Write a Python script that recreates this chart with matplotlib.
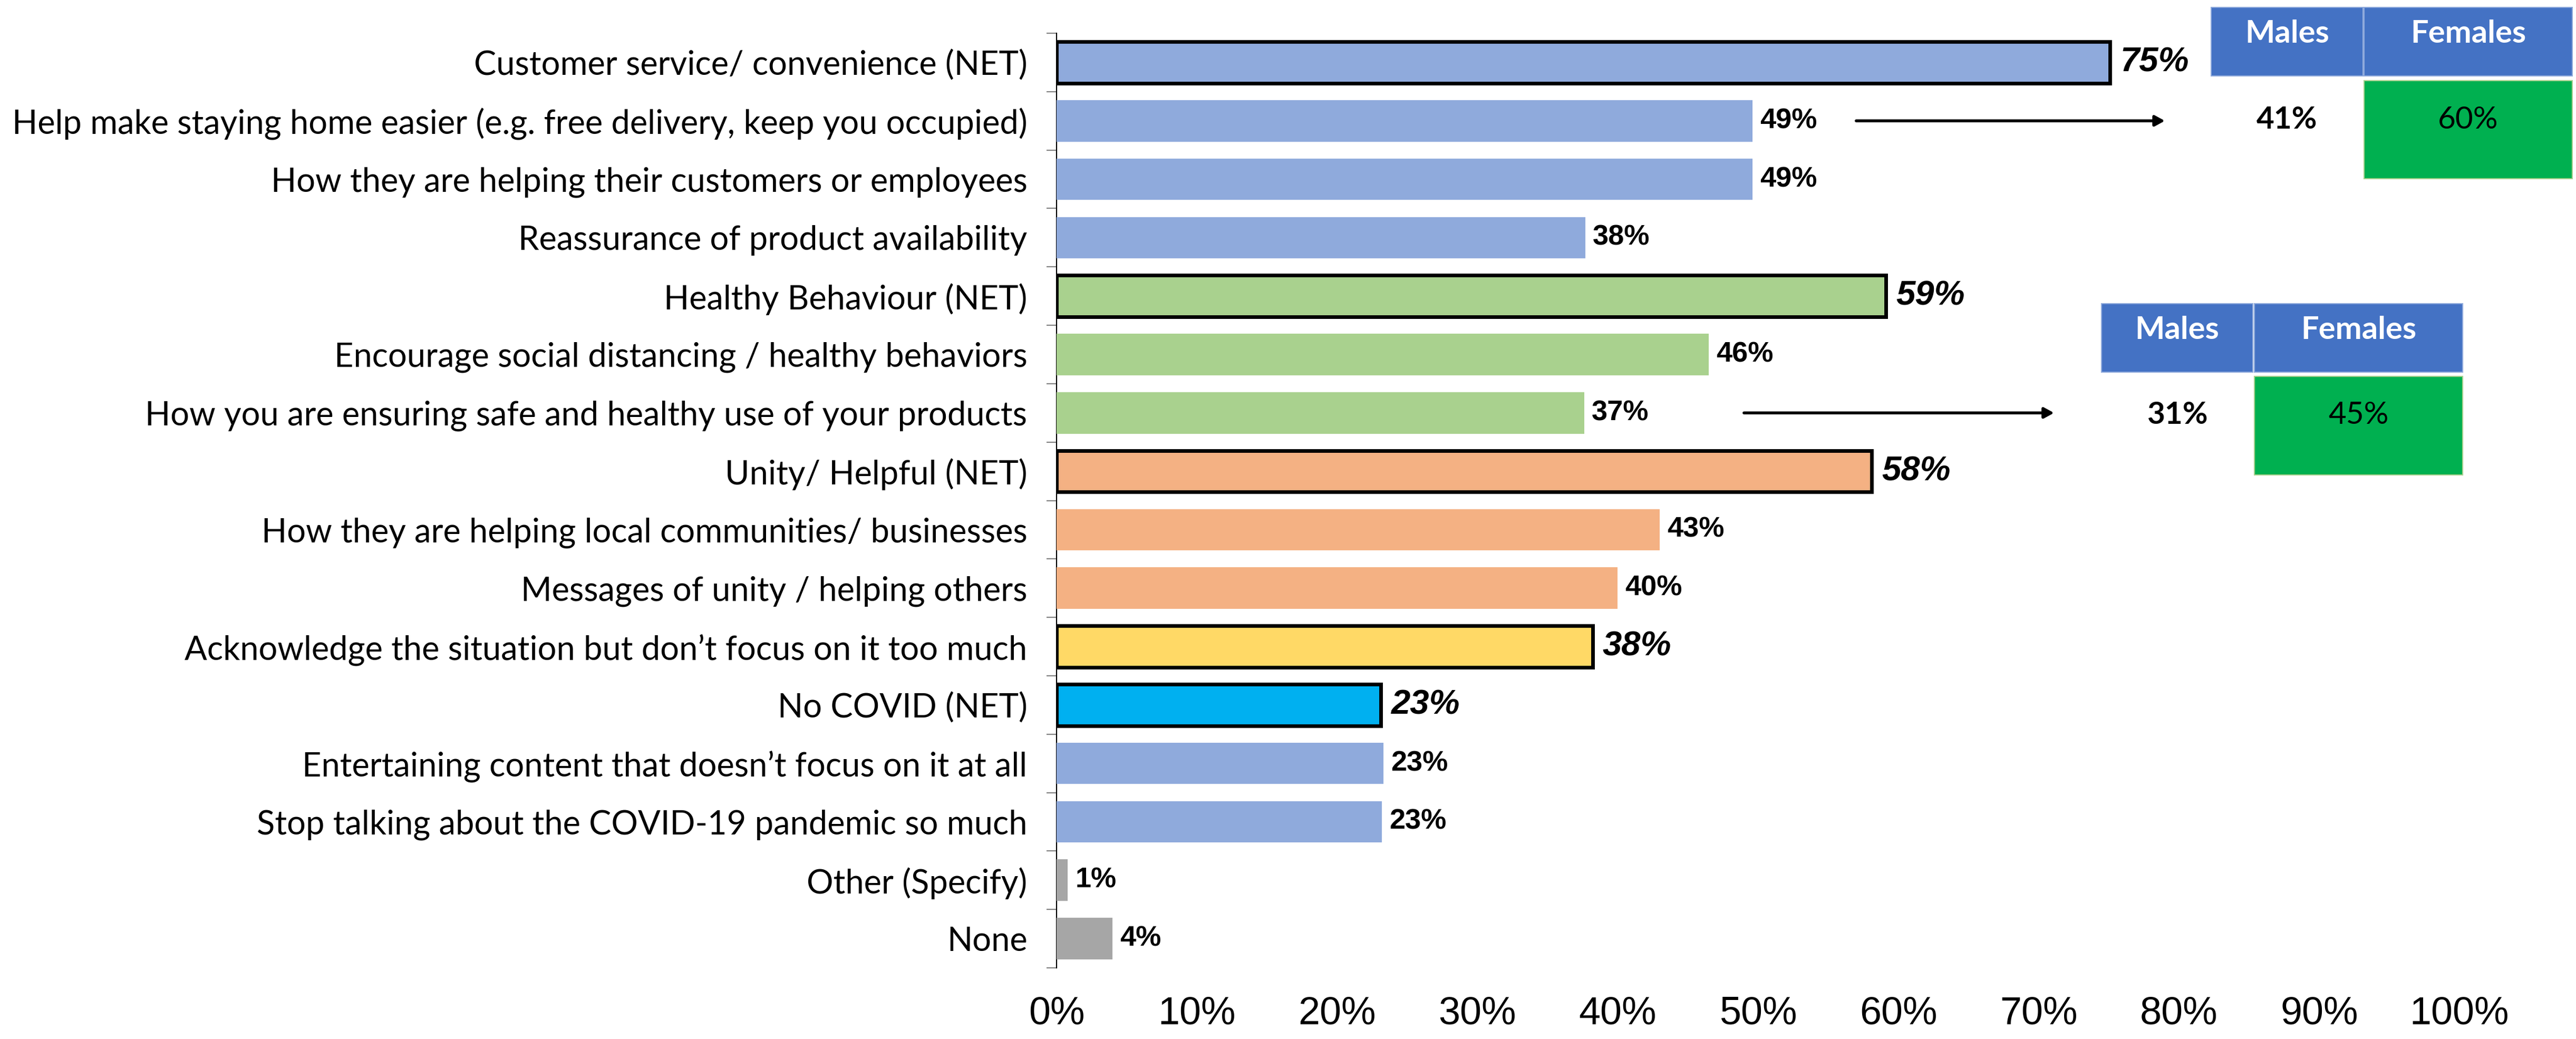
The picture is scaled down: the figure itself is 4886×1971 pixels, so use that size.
import matplotlib
matplotlib.use('Agg')
import matplotlib.pyplot as plt
from matplotlib.patches import Rectangle

# chart data
labels = [
    'Customer service/ convenience (NET)',
    'Help make staying home easier (e.g. free delivery, keep you occupied)',
    'How they are helping their customers or employees',
    'Reassurance of product availability',
    'Healthy Behaviour (NET)',
    'Encourage social distancing / healthy behaviors',
    'How you are ensuring safe and healthy use of your products',
    'Unity/ Helpful (NET)',
    'How they are helping local communities/ businesses',
    'Messages of unity / helping others',
    'Acknowledge the situation but don\u2019t focus on it too much',
    'No COVID (NET)',
    'Entertaining content that doesn\u2019t focus on it at all',
    'Stop talking about the COVID-19 pandemic so much',
    'Other (Specify)',
    'None',
]
# bar lengths (unrounded) and the printed labels
bar_values = [75.1, 49.6, 49.6, 37.7, 59.1, 46.5, 37.6, 58.1, 43.0, 40.0,
              38.2, 23.1, 23.3, 23.2, 0.8, 4.0]
value_labels = [75, 49, 49, 38, 59, 46, 37, 58, 43, 40, 38, 23, 23, 23, 1, 4]
is_net = [True, False, False, False, True, False, False, True, False, False,
          True, True, False, False, False, False]
bar_colors = ['#8FAADC', '#8FAADC', '#8FAADC', '#8FAADC',
              '#A9D18E', '#A9D18E', '#A9D18E',
              '#F4B183', '#F4B183', '#F4B183',
              '#FFD966', '#00B0F0', '#8FAADC', '#8FAADC',
              '#A6A6A6', '#A6A6A6']
xticks = [0, 10, 20, 30, 40, 50, 60, 70, 80, 90, 100]

# gender split call-outs
split_headers = ['Males', 'Females']
split_rows = [1, 6]            # rows the arrows start from
males_split = [41, 31]
females_split = [60, 45]

W, H = 4886, 1971
fig = plt.figure(figsize=(W / 100, H / 100), dpi=100)
ax = fig.add_axes([2004 / W, 1 - 1836 / H, (4665 - 2004) / W, (1836 - 63) / H])

ypos = list(range(len(labels)))
for y, v, lab, c, net in zip(ypos, bar_values, value_labels, bar_colors, is_net):
    if net:
        ax.barh(y, v, height=0.71, color=c, edgecolor='black', linewidth=5, zorder=3)
        ax.annotate('%d%%' % lab, (v, y), xytext=(14, 0), textcoords='offset points',
                    va='center', ha='left', fontsize=47, fontweight='bold',
                    fontstyle='italic', family='Liberation Sans')
    else:
        ax.barh(y, v, height=0.71, color=c, linewidth=0, zorder=3)
        ax.annotate('%d%%' % lab, (v, y), xytext=(10, 0), textcoords='offset points',
                    va='center', ha='left', fontsize=39, fontweight='bold',
                    family='Liberation Sans')

ax.set_xlim(0, 100)
ax.set_ylim(len(labels) - 0.5, -0.5)
ax.set_yticks(ypos)
ax.set_yticklabels(labels, fontsize=45.5, family='Lato')
ax.set_yticks([y - 0.5 for y in range(len(labels) + 1)], minor=True)
ax.tick_params(axis='y', which='major', length=0, pad=40)
ax.tick_params(axis='y', which='minor', length=14, width=1.5, color='#7F7F7F')
ax.set_xticks(xticks)
ax.set_xticklabels(['%d%%' % t for t in xticks], fontsize=53, family='Liberation Sans')
ax.tick_params(axis='x', length=0, pad=38)

for s in ['top', 'right', 'bottom']:
    ax.spines[s].set_visible(False)
ax.spines['left'].set_linewidth(1.5)
ax.spines['left'].set_color('black')

# arrows to the gender tables
arrow_x = [(57.0, 79.0), (49.0, 71.1)]
for (x0, x1), r in zip(arrow_x, split_rows):
    ax.annotate('', xy=(x1, r), xytext=(x0, r), annotation_clip=False,
                arrowprops=dict(arrowstyle='-|>,head_length=1.1,head_width=0.6',
                                color='black', lw=4, shrinkA=0, shrinkB=0))

# tables drawn in figure pixels: (males_x0, males_x1, fem_x0, fem_x1, head_y0, head_y1, body_y0, body_y1)
tables = [(4194, 4482, 4484, 4879, 14, 144, 153, 339),
          (3986, 4273, 4276, 4671, 576, 706, 714, 901)]


def fig_rect(x0, x1, y0, y1, color, ec='none'):
    fig.add_artist(Rectangle((x0 / W, 1 - y1 / H), (x1 - x0) / W, (y1 - y0) / H,
                             transform=fig.transFigure, facecolor=color,
                             edgecolor=ec, linewidth=1.5))


for t, m, f in zip(tables, males_split, females_split):
    mx0, mx1, fx0, fx1, hy0, hy1, by0, by1 = t
    fig_rect(mx0, mx1, hy0, hy1, '#4472C4', '#8FAADC')
    fig_rect(fx0, fx1, hy0, hy1, '#4472C4', '#8FAADC')
    fig_rect(fx0, fx1, by0, by1, '#00B050', '#A9D18E')
    ty = hy0 + 50
    fig.text((mx0 + mx1) / 2 / W, 1 - ty / H, split_headers[0], color='white',
             fontsize=43, fontweight='bold', family='Lato', ha='center', va='center')
    fig.text((fx0 + fx1) / 2 / W, 1 - ty / H, split_headers[1], color='white',
             fontsize=43, fontweight='bold', family='Lato', ha='center', va='center')
    vy = by0 + 74
    fig.text((mx0 + mx1) / 2 / W, 1 - vy / H, '%d%%' % m, color='black',
             fontsize=42, fontweight='bold', family='Lato', ha='center', va='center')
    fig.text((fx0 + fx1) / 2 / W, 1 - vy / H, '%d%%' % f, color='black',
             fontsize=42, family='Lato', ha='center', va='center')

fig.savefig('out.png', dpi=100, facecolor='white')
